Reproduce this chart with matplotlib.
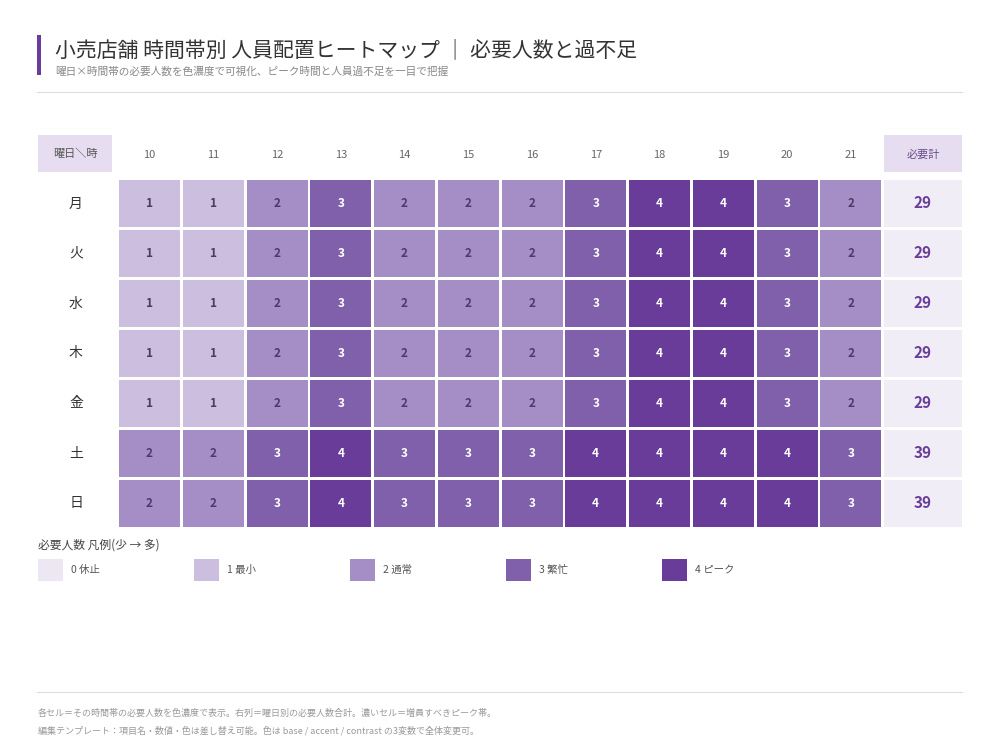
import matplotlib
matplotlib.use("Agg")
from matplotlib import pyplot as plt
import matplotlib.patches as mpatches
import numpy as np

plt.rcParams['font.family'] = ['Noto Sans CJK JP', 'DejaVu Sans']

days = ['月', '火', '水', '木', '金', '土', '日']
hours = ['10', '11', '12', '13', '14', '15', '16', '17', '18', '19', '20', '21']
weekday = [1, 1, 2, 3, 2, 2, 2, 3, 4, 4, 3, 2]
weekend = [2, 2, 3, 4, 3, 3, 3, 4, 4, 4, 4, 3]
staff = np.array([weekday] * 5 + [weekend] * 2)
totals = staff.sum(axis=1)

level_names = ['0 休止', '1 最小', '2 通常', '3 繁忙', '4 ピーク']
colors = ['#ece7f3', '#cbbede', '#a58dc6', '#8060aa', '#683c98']
accent = '#6a3d9a'

fig = plt.figure(figsize=(10, 7.5), dpi=100)
ax = fig.add_axes([0, 0, 1, 1])
ax.set_xlim(0, 1000)
ax.set_ylim(750, 0)
ax.axis('off')

# title block
ax.add_patch(mpatches.Rectangle((37, 35), 4, 40, color=accent, lw=0))
ax.text(55, 50, '小売店舗 時間帯別 人員配置ヒートマップ ｜ 必要人数と過不足',
        fontsize=15, color='#333333', va='center', ha='left')
ax.text(55, 72, '曜日×時間帯の必要人数を色濃度で可視化、ピーク時間と人員過不足を一目で把握',
        fontsize=7.7, color='#888888', va='center', ha='left')
ax.plot([37, 962], [92, 92], color='#dddddd', lw=0.8)

# grid geometry
x0, pitch_x, cw = 119, 63.75, 61
y0, pitch_y, ch = 180, 50, 47
tx0, tw = 884, 78

# header row
ax.add_patch(mpatches.Rectangle((38, 135), 74, 37, color='#e6def0', lw=0))
ax.text(75, 154, '曜日＼時', fontsize=8, color='#555555', ha='center', va='center')
for j, h in enumerate(hours):
    ax.text(x0 + j * pitch_x + cw / 2, 155, h, fontsize=8, color='#666666',
            ha='center', va='center')
ax.add_patch(mpatches.Rectangle((tx0, 135), tw, 37, color='#e6def0', lw=0))
ax.text(tx0 + tw / 2, 155, '必要計', fontsize=8, color='#6a4c8c', ha='center', va='center')

# cells
for i, d in enumerate(days):
    cy = y0 + i * pitch_y
    ax.text(76, cy + ch / 2, d, fontsize=10, color='#333333', ha='center', va='center')
    for j in range(len(hours)):
        v = staff[i, j]
        ax.add_patch(mpatches.Rectangle((x0 + j * pitch_x, cy), cw, ch,
                                        color=colors[v], lw=0))
        tc = 'white' if v >= 3 else '#4a3a66'
        ax.text(x0 + j * pitch_x + cw / 2, cy + ch / 2, str(v), fontsize=8.5,
                fontweight='bold', color=tc, ha='center', va='center')
    ax.add_patch(mpatches.Rectangle((tx0, cy), tw, ch, color='#f1edf7', lw=0))
    ax.text(tx0 + tw / 2, cy + ch / 2, str(totals[i]), fontsize=11,
            fontweight='bold', color=accent, ha='center', va='center')

# legend
ax.text(38, 545, '必要人数 凡例(少 → 多)', fontsize=8.5, color='#444444',
        ha='left', va='center')
for k, name in enumerate(level_names):
    lx = 38 + k * 156
    ax.add_patch(mpatches.Rectangle((lx, 559), 25, 22, color=colors[k], lw=0))
    ax.text(lx + 33, 570, name, fontsize=7.5, color='#555555', ha='left', va='center')

# footer
ax.plot([37, 962], [692, 692], color='#dddddd', lw=0.8)
ax.text(38, 713, '各セル＝その時間帯の必要人数を色濃度で表示。右列＝曜日別の必要人数合計。濃いセル＝増員すべきピーク帯。',
        fontsize=6.5, color='#999999', ha='left', va='center')
ax.text(38, 731, '編集テンプレート：項目名・数値・色は差し替え可能。色は base / accent / contrast の3変数で全体変更可。',
        fontsize=6.5, color='#999999', ha='left', va='center')

fig.savefig('out.png', dpi=100)
